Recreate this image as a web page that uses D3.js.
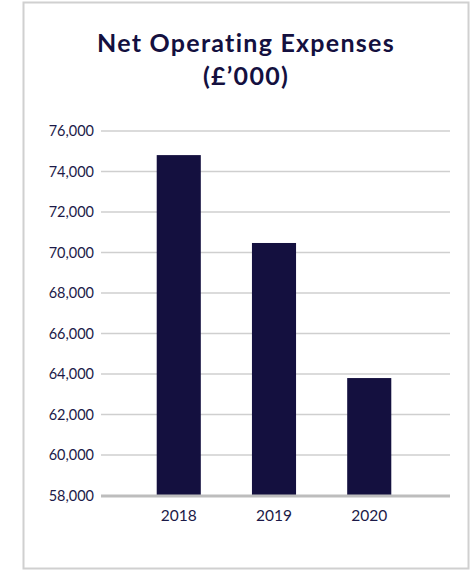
<!DOCTYPE html>
<html>
<head>
<meta charset="utf-8">
<script src="https://cdn.jsdelivr.net/npm/d3@7"></script>
<style>
  html, body { margin: 0; padding: 0; background: #fff; }
  svg { display: block; }
</style>
</head>
<body>
<svg id="chart" width="471" height="570"></svg>
<script>
const categories = ["2018", "2019", "2020"];
const values = [74810, 70470, 63800];
const yTicks = [58000, 60000, 62000, 64000, 66000, 68000, 70000, 72000, 74000, 76000];
const titleLines = ["Net Operating Expenses", "(£’000)"];

const navy = "#14103f";
const textColor = "#1c1a48";
const svg = d3.select("#chart");

// card border
svg.append("rect")
  .attr("x", 23.5).attr("y", 2.5)
  .attr("width", 445).attr("height", 566)
  .attr("fill", "#fff")
  .attr("stroke", "#d0d0d0")
  .attr("stroke-width", 2);

// title
const title = svg.append("text")
  .attr("text-anchor", "middle")
  .attr("font-family", "Lato, 'Open Sans', sans-serif")
  .attr("font-weight", 700)
  .attr("font-size", 25)
  .attr("fill", navy);
const spans = titleLines.map((t, i) =>
  title.append("tspan").attr("x", 246).attr("y", 52 + i * 33).text(t));
// widen letter spacing so the first line spans the same width as the original lettering
const w0 = spans[0].node().getComputedTextLength();
const ls = Math.max(0, (297 - w0) / (titleLines[0].length - 1));
title.attr("letter-spacing", ls);

const y = d3.scaleLinear().domain([58000, 76000]).range([495.5, 131]);
const x = d3.scaleBand().domain(categories).range([131, 417]).paddingInner(0.537).paddingOuter(0.27);

const gridX0 = 101, gridX1 = 450;

// gridlines
svg.append("g").selectAll("line")
  .data(yTicks.filter(d => d !== 58000))
  .join("line")
  .attr("x1", gridX0).attr("x2", gridX1)
  .attr("y1", d => y(d)).attr("y2", d => y(d))
  .attr("stroke", "#cfcfcf").attr("stroke-width", 1.5);

// y axis labels
const yAxis = d3.axisLeft(y).tickValues(yTicks).tickSize(0).tickPadding(0)
  .tickFormat(d3.format(","));
const gy = svg.append("g").attr("transform", `translate(94,0)`).call(yAxis);
gy.select(".domain").remove();
gy.selectAll("text")
  .attr("font-family", "Lato, 'Open Sans', sans-serif")
  .attr("font-size", 14.5)
  .attr("fill", textColor);

// bars
svg.append("g").selectAll("rect")
  .data(values)
  .join("rect")
  .attr("x", (d, i) => x(categories[i]))
  .attr("width", x.bandwidth())
  .attr("y", d => y(d))
  .attr("height", d => y(58000) - y(d))
  .attr("fill", navy);

// baseline
svg.append("line")
  .attr("x1", gridX0).attr("x2", gridX1)
  .attr("y1", y(58000) + 0.5).attr("y2", y(58000) + 0.5)
  .attr("stroke", "#bdbdbd").attr("stroke-width", 3);

// x axis labels
const xAxis = d3.axisBottom(x).tickSize(0).tickPadding(0);
const gx = svg.append("g").attr("transform", `translate(0,510)`).call(xAxis);
gx.select(".domain").remove();
gx.selectAll("text")
  .attr("font-family", "Lato, 'Open Sans', sans-serif")
  .attr("font-size", 15.5)
  .attr("fill", textColor);
</script>
</body>
</html>
